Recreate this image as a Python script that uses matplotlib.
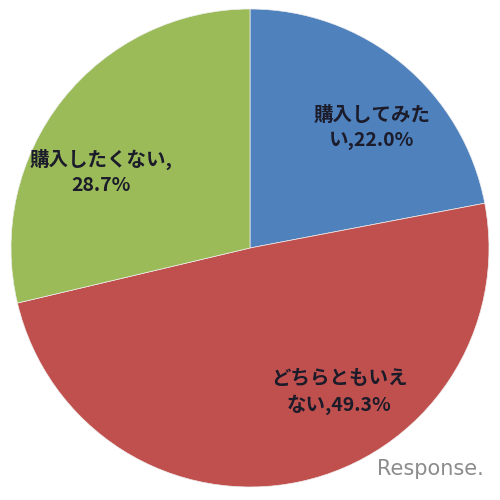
import matplotlib
matplotlib.use('Agg')
import matplotlib.pyplot as plt

plt.rcParams['font.family'] = ['Noto Sans CJK JP', 'DejaVu Sans']

# survey answers, clockwise from 12 o'clock
labels = ['購入してみた\nい,22.0%', 'どちらともいえ\nない,49.3%', '購入したくない,\n28.7%']
values = [22.0, 49.3, 28.7]
colors = ['#4F81BD', '#C0504D', '#9BBB59']
label_pos = [(372, 372), (339, 108), (101, 328)]

fig = plt.figure(figsize=(5, 5), dpi=100)
ax = fig.add_axes([0, 0, 1, 1])

ax.pie(values, colors=colors, startangle=90, counterclock=False,
       center=(250, 252), radius=239, frame=True,
       wedgeprops=dict(linewidth=0.5, edgecolor='#eeeeee'))
ax.set_xlim(0, 500)
ax.set_ylim(0, 500)
ax.set_aspect('equal')
ax.axis('off')

for txt, (x, y) in zip(labels, label_pos):
    ax.text(x, y, txt, ha='center', va='center', fontsize=14,
            fontweight='bold', color='#1b1b2a', linespacing=1.35)

# watermark
ax.text(430, 31, 'Response.', ha='center', va='center', fontsize=15,
        color='#8c8c8c', family='DejaVu Sans')

fig.savefig('out.png', dpi=100)
